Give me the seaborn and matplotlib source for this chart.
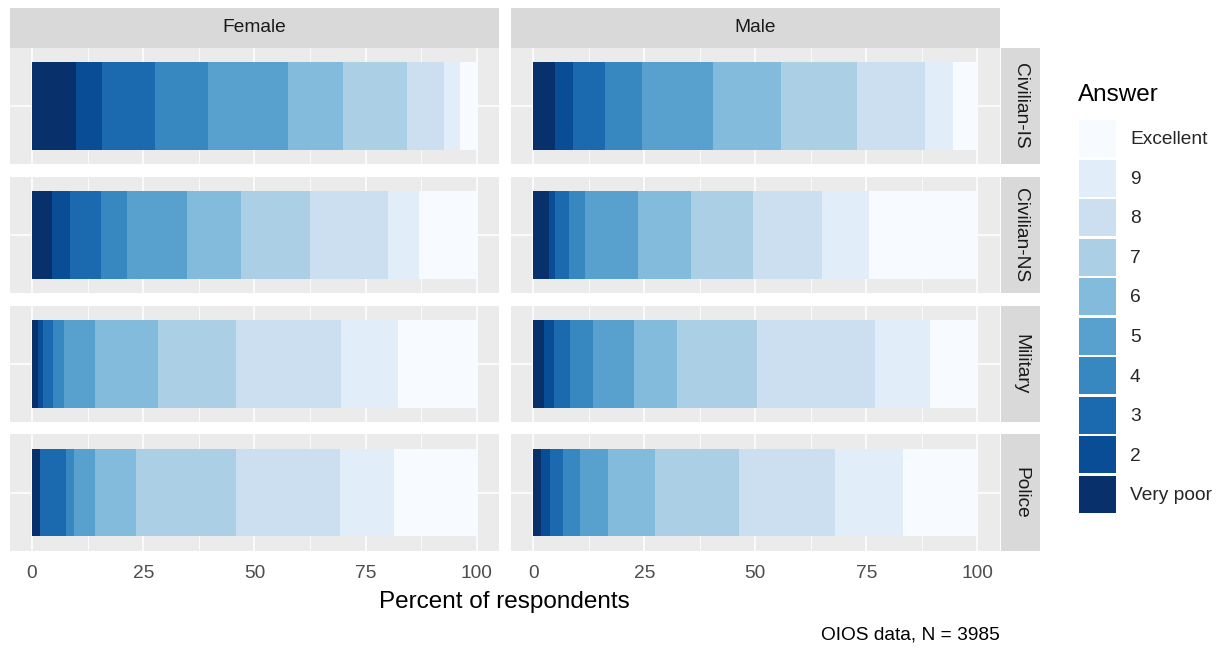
import numpy as np
import pandas as pd
import matplotlib
matplotlib.use("Agg")
import matplotlib.pyplot as plt
from matplotlib.patches import Patch
import seaborn as sns

ANSWERS = ["Very poor", "2", "3", "4", "5", "6", "7", "8", "9", "Excellent"]
SERVICES = ["Civilian-IS", "Civilian-NS", "Military", "Police"]
GENDERS = ["Female", "Male"]

# percent of respondents per answer (Very poor ... Excellent)
female_civilian_is = [9.9, 5.8, 12.0, 11.8, 18.0, 12.5, 14.3, 8.4, 3.6, 3.7]
male_civilian_is = [4.9, 4.0, 7.2, 8.3, 16.1, 15.4, 17.0, 15.4, 6.3, 5.4]
female_civilian_ns = [4.5, 4.0, 7.0, 5.8, 13.6, 12.1, 15.6, 17.5, 6.9, 13.0]
male_civilian_ns = [3.5, 1.4, 3.1, 3.6, 12.0, 12.0, 13.9, 15.5, 10.7, 24.3]
female_military = [1.3, 1.1, 2.3, 2.4, 7.1, 14.1, 17.6, 23.5, 12.9, 17.7]
male_military = [2.4, 2.3, 3.6, 5.1, 9.3, 9.6, 18.1, 26.6, 12.3, 10.7]
female_police = [1.9, 0.0, 5.7, 1.8, 4.8, 9.2, 22.5, 23.4, 12.1, 18.6]
male_police = [1.7, 2.1, 2.8, 3.9, 6.3, 10.6, 18.9, 21.6, 15.4, 16.7]

CAPTION = "OIOS data, N = 3985"

panels = {
    ("Civilian-IS", "Female"): female_civilian_is,
    ("Civilian-IS", "Male"): male_civilian_is,
    ("Civilian-NS", "Female"): female_civilian_ns,
    ("Civilian-NS", "Male"): male_civilian_ns,
    ("Military", "Female"): female_military,
    ("Military", "Male"): male_military,
    ("Police", "Female"): female_police,
    ("Police", "Male"): male_police,
}

rows = []
for (service, gender), vals in panels.items():
    vals = np.array(vals, dtype=float)
    cum = np.cumsum(vals) / vals.sum() * 100
    for ans, v, c in zip(ANSWERS, vals, cum):
        rows.append({"service": service, "gender": gender, "answer": ans, "pct": v, "cum": c})
df = pd.DataFrame(rows)

cmap = plt.get_cmap("Blues")
colors = [cmap(t) for t in np.linspace(1, 0, len(ANSWERS))]
palette = dict(zip(ANSWERS, colors))

sns.set_style("white")
plt.rcParams["font.family"] = ["Liberation Sans", "DejaVu Sans"]

FS = 13.8      # small text
FS_T = 17.5    # titles

W, H = 1231, 650
fig = plt.figure(figsize=(W / 100, H / 100), dpi=100)


def frac(x0, y0, x1, y1):
    return [x0 / W, 1 - y1 / H, (x1 - x0) / W, (y1 - y0) / H]


col_x = [(9.8, 498.9), (511.1, 999.5)]
row_top = [47.8, 176.6, 305.5, 434.3]
ph = 116.6
strip_fc = "#D9D9D9"

for i, service in enumerate(SERVICES):
    for j, gender in enumerate(GENDERS):
        x0, x1 = col_x[j]
        y0 = row_top[i]
        ax = fig.add_axes(frac(x0, y0, x1, y0 + ph))
        sub = df[(df.service == service) & (df.gender == gender)]
        sns.barplot(data=sub, x="cum", y="service", hue="answer",
                    hue_order=ANSWERS[::-1], palette=palette, dodge=False,
                    width=0.9, orient="h", errorbar=None, saturation=1,
                    legend=False, linewidth=0, ax=ax)
        ax.set_facecolor("#EBEBEB")
        for s in ax.spines.values():
            s.set_visible(False)
        ax.set_xlim(-5, 105)
        ax.set_ylim(0.6, -0.6)
        ax.set_xlabel("")
        ax.set_ylabel("")
        ax.set_xticks([0, 25, 50, 75, 100])
        ax.set_xticks([12.5, 37.5, 62.5, 87.5], minor=True)
        ax.set_yticks([0])
        ax.set_axisbelow(True)
        ax.grid(which="major", color="white", lw=1.1)
        ax.grid(which="minor", axis="x", color="white", lw=0.55)
        ax.tick_params(which="minor", length=0)
        ax.tick_params(axis="both", which="major", length=3, width=0.8,
                       color="#333333", labelcolor="#4D4D4D", labelsize=FS, pad=7.5)
        if i < len(SERVICES) - 1:
            ax.tick_params(axis="x", which="major", length=0, labelbottom=False)
        if j == 0:
            ax.set_yticklabels([""])
        else:
            ax.tick_params(axis="y", length=0, labelleft=False)

        # row strip on the right
        if j == 1:
            sax = fig.add_axes(frac(1001, y0, 1040, y0 + ph))
            sax.set_facecolor(strip_fc)
            sax.set_xticks([])
            sax.set_yticks([])
            for s in sax.spines.values():
                s.set_visible(False)
            sax.text(0.5, 0.5, service, rotation=-90, ha="center", va="center",
                     fontsize=FS, color="#1A1A1A", transform=sax.transAxes)

# column strips
for j, gender in enumerate(GENDERS):
    x0, x1 = col_x[j]
    sax = fig.add_axes(frac(x0, 8.3, x1, 47.5))
    sax.set_facecolor(strip_fc)
    sax.set_xticks([])
    sax.set_yticks([])
    for s in sax.spines.values():
        s.set_visible(False)
    sax.text(0.5, 0.5, gender, ha="center", va="center", fontsize=FS,
             color="#1A1A1A", transform=sax.transAxes)

fig.text((9.8 + 999.5) / 2 / W, 1 - 602 / H, "Percent of respondents",
         ha="center", va="center", fontsize=FS_T, color="black")
fig.text(1000 / W, 1 - 635 / H, CAPTION, ha="right", va="center",
         fontsize=FS, color="black")

fig.text(1078 / W, 1 - 95 / H, "Answer", ha="left", va="center",
         fontsize=FS_T, color="black")
handles = [Patch(facecolor=palette[a], edgecolor="none", label=a) for a in ANSWERS[::-1]]
leg = fig.legend(handles=handles, loc="upper left",
                 bbox_to_anchor=(1079 / W, 1 - 120 / H), frameon=False,
                 fontsize=FS, handlelength=1.93, handleheight=2.59,
                 labelspacing=0.135, handletextpad=0.73,
                 borderpad=0, borderaxespad=0)

fig.savefig("out.png", dpi=100)
